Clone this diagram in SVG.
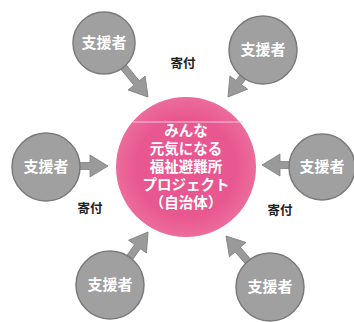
<svg xmlns="http://www.w3.org/2000/svg" width="354" height="322" viewBox="0 0 354 322">
<style>
.sup circle{fill:#a0a0a0;stroke:#7a7a7a;stroke-width:1.5}
.sup text{fill:#fff;font-family:"Noto Sans CJK JP","Noto Sans CJK SC",sans-serif;font-weight:700;font-size:15px;text-anchor:middle}
.lbl{fill:#222;font-family:"Noto Sans CJK JP","Noto Sans CJK SC",sans-serif;font-weight:700;font-size:12.5px;text-anchor:middle}
.main text{fill:#fff;font-family:"Noto Sans CJK JP","Noto Sans CJK SC",sans-serif;font-weight:700;font-size:14.5px;text-anchor:middle}
.arr{fill:#9a9a9a;stroke:#7e7e7e;stroke-width:0.8}
</style>
<defs>
<polygon id="arrow" points="0,0 -18,-11 -18,-3.5 -48,-3.5 -48,3.5 -18,3.5 -18,11"/>
<radialGradient id="pk" cx="0.5" cy="0.5" r="0.5">
<stop offset="0.7" stop-color="#e8578f"/>
<stop offset="1" stop-color="#ec6c9c"/>
</radialGradient>
</defs>
<rect width="354" height="322" fill="#fff"/>
<g id="connectors">
<use href="#arrow" class="arr" transform="translate(148,97) rotate(50.8)"/>
<use href="#arrow" class="arr" transform="translate(228,97) rotate(126.7)"/>
<use href="#arrow" class="arr" transform="translate(108,166) rotate(0)"/>
<use href="#arrow" class="arr" transform="translate(262,165) rotate(180)"/>
<use href="#arrow" class="arr" transform="translate(148,232) rotate(-54.4)"/>
<use href="#arrow" class="arr" transform="translate(226,236) rotate(-130.8)"/>
</g>
<g id="main" class="main">
<circle cx="186" cy="167" r="70" fill="url(#pk)"/>
<line x1="133" y1="122" x2="243" y2="122" stroke="#f6c6d8" stroke-width="1"/>
<text x="186" y="135.5">みんな</text>
<text x="186" y="153.5">元気になる</text>
<text x="186" y="171.5">福祉避難所</text>
<text x="186" y="189.5">プロジェクト</text>
<text x="186" y="208">（自治体）</text>
</g>
<g id="s1" class="sup"><circle cx="104" cy="43" r="31"/><text x="104" y="48">支援者</text></g>
<g id="s2" class="sup"><circle cx="263" cy="50" r="34"/><text x="263" y="55">支援者</text></g>
<g id="s3" class="sup"><circle cx="46" cy="167" r="34"/><text x="46" y="172">支援者</text></g>
<g id="s4" class="sup"><circle cx="322" cy="167" r="33"/><text x="322" y="172">支援者</text></g>
<g id="s5" class="sup"><circle cx="110" cy="285" r="34"/><text x="110" y="290">支援者</text></g>
<g id="s6" class="sup"><circle cx="270" cy="287" r="34"/><text x="270" y="292">支援者</text></g>
<g id="labels">
<text class="lbl" x="183" y="68">寄付</text>
<text class="lbl" x="90" y="213">寄付</text>
<text class="lbl" x="280" y="215">寄付</text>
</g>
</svg>
